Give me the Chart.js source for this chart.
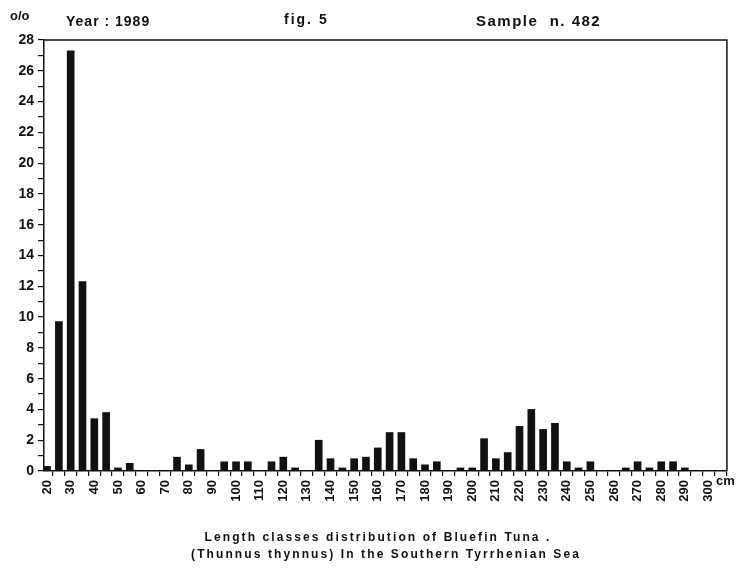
<!DOCTYPE html>
<html>

<head>
  <title>Length classes distribution of Bluefin Tuna</title>
  <script src="https://cdn.jsdelivr.net/npm/chart.js"></script>
  <style>
    body { margin: 0; background: #fff; }
    #wrap { width: 740px; height: 570px; position: relative; }
  </style>
</head>

<body>
  <div id="wrap"><canvas id="tunaChart"></canvas></div>
  <script>
    // length classes (cm) and percentage of sample
    const lengthClasses = [20, 25, 30, 35, 40, 45, 50, 55, 60, 65, 70, 75, 80, 85, 90, 95, 100, 105, 110, 115,
      120, 125, 130, 135, 140, 145, 150, 155, 160, 165, 170, 175, 180, 185, 190, 195, 200, 205, 210, 215,
      220, 225, 230, 235, 240, 245, 250, 255, 260, 265, 270, 275, 280, 285, 290, 295];
    const percentValues = [0.3, 9.7, 27.3, 12.3, 3.4, 3.8, 0.2, 0.5, 0, 0, 0, 0.9, 0.4, 1.4, 0, 0.6, 0.6, 0.6, 0, 0.6,
      0.9, 0.2, 0, 2.0, 0.8, 0.2, 0.8, 0.9, 1.5, 2.5, 2.5, 0.8, 0.4, 0.6, 0, 0.2, 0.2, 2.1, 0.8, 1.2,
      2.9, 4.0, 2.7, 3.1, 0.6, 0.2, 0.6, 0, 0, 0.2, 0.6, 0.2, 0.6, 0.6, 0.2, 0];
    const yTicks = [0, 2, 4, 6, 8, 10, 12, 14, 16, 18, 20, 22, 24, 26, 28];
    const xLabels = [20, 30, 40, 50, 60, 70, 80, 90, 100, 110, 120, 130, 140, 150, 160, 170, 180, 190, 200,
      210, 220, 230, 240, 250, 260, 270, 280, 290, 300];

    const ink = '#111';
    const font = "'Liberation Sans', Arial, sans-serif";

    // frame + loose texts
    const decor = {
      id: 'decor',
      afterDraw(chart) {
        const ctx = chart.ctx;
        const a = chart.chartArea;
        ctx.save();
        ctx.strokeStyle = ink;
        ctx.lineWidth = 1.5;
        ctx.beginPath();
        ctx.moveTo(a.left, a.top);
        ctx.lineTo(a.right, a.top);
        ctx.lineTo(a.right, a.bottom);
        ctx.stroke();

        ctx.fillStyle = ink;
        ctx.textBaseline = 'alphabetic';
        ctx.font = 'bold 13px ' + font;
        ctx.fillText('o/o', 10, 20);
        ctx.font = 'bold 14px ' + font;
        ctx.letterSpacing = '1px';
        ctx.fillText('Year : 1989', 66, 26);
        ctx.letterSpacing = '2px';
        ctx.fillText('fig. 5', 284, 24);
        ctx.font = 'bold 15px ' + font;
        ctx.letterSpacing = '1.5px';
        ctx.fillText('Sample  n. 482', 476, 26);
        ctx.letterSpacing = '0px';
        ctx.font = 'bold 13px ' + font;
        ctx.fillText('cm', 716, 485);

        ctx.font = 'bold 12px ' + font;
        ctx.letterSpacing = '2.1px';
        ctx.textAlign = 'center';
        ctx.fillText('Length classes distribution of Bluefin Tuna .', 378, 541);
        ctx.fillText('(Thunnus thynnus) In the Southern Tyrrhenian Sea', 386, 558);
        ctx.restore();
      }
    };

    const ctx = document.getElementById('tunaChart').getContext('2d');
    new Chart(ctx, {
      type: 'bar',
      data: {
        datasets: [{
          data: lengthClasses.map((c, i) => ({ x: c, y: percentValues[i] })),
          backgroundColor: ink,
          barThickness: 7
        }]
      },
      options: {
        animation: false,
        responsive: true,
        maintainAspectRatio: false,
        layout: { padding: { top: 40, right: 11, left: 0, bottom: 0 } },
        plugins: { legend: { display: false }, tooltip: { enabled: false } },
        scales: {
          x: {
            type: 'linear',
            min: 18.7,
            max: 307.8,
            offset: false,
            afterBuildTicks(scale) {
              const t = [];
              for (let v = 20; v <= 305; v += 5) t.push({ value: v });
              scale.ticks = t;
            },
            afterFit(scale) { scale.height = 99; },
            ticks: {
              autoSkip: false,
              minRotation: 90,
              maxRotation: 90,
              padding: 4,
              color: ink,
              font: { family: font, size: 13, weight: 'bold' },
              callback: v => xLabels.includes(v) ? String(v) : ''
            },
            grid: { drawOnChartArea: false, color: ink, tickLength: 5, lineWidth: 1.2 },
            border: { color: ink, width: 1.5 }
          },
          y: {
            min: 0,
            max: 28,
            afterBuildTicks(scale) {
              const t = [];
              for (let v = 0; v <= 28; v += 1) t.push({ value: v });
              scale.ticks = t;
            },
            afterFit(scale) { scale.width = 44; },
            ticks: {
              autoSkip: false,
              padding: 4,
              color: ink,
              font: { family: font, size: 14, weight: 'bold' },
              callback: v => yTicks.includes(v) ? String(v) : ''
            },
            grid: { drawOnChartArea: false, color: ink, tickLength: 6, lineWidth: 1.2 },
            border: { color: ink, width: 1.5 }
          }
        }
      },
      plugins: [decor]
    });
  </script>
</body>

</html>
